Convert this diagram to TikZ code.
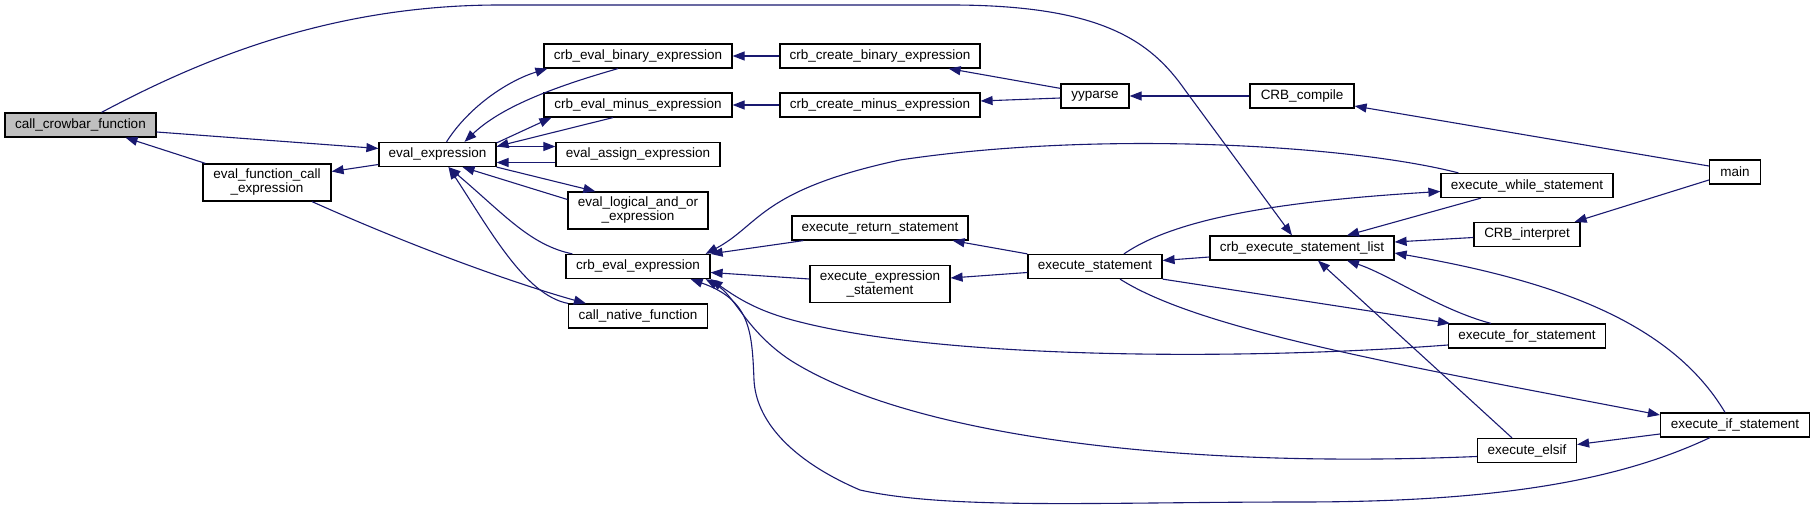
\documentclass[tikz,border=0pt]{standalone}
\usepackage{fontspec}
\setmainfont{Liberation Sans}
\usepackage{tikz}
\usetikzlibrary{arrows.meta}
\definecolor{edgeblue}{RGB}{25,25,112}
\definecolor{hlgray}{RGB}{191,191,191}

\begin{document}
\begin{tikzpicture}[x=1pt,y=-1pt,
    fn/.style={draw=black,line width=1.2pt,fill=white,inner sep=0pt,minimum height=24pt,
      align=center,font=\fontsize{13.5pt}{14pt}\selectfont},
    fntwo/.style={fn,minimum height=37pt},
    call/.style={draw=edgeblue,line width=1.1pt,arrows={Triangle[length=12pt,width=9pt]-}}]
	\useasboundingbox (0,0) rectangle (1815,510);
	% functions, column by column
	\node[fn,fill=hlgray,minimum width=151pt] (ccf) at (80.5,125) {call\_crowbar\_function};
	\node[fntwo,minimum width=128pt] (efc) at (267,182.5) {eval\_function\_call\\\_expression};
	\node[fn,minimum width=117pt] (eexpr) at (437.5,154.5) {eval\_expression};
	\node[fn,minimum width=188pt] (cebin) at (638,56) {crb\_eval\_binary\_expression};
	\node[fn,minimum width=188pt] (cemin) at (638,105) {crb\_eval\_minus\_expression};
	\node[fn,minimum width=164pt] (eassign) at (638,154.5) {eval\_assign\_expression};
	\node[fntwo,minimum width=140pt] (elogic) at (638,210.5) {eval\_logical\_and\_or\\\_expression};
	\node[fn,minimum width=144pt] (ceexpr) at (638,266.5) {crb\_eval\_expression};
	\node[fn,minimum width=139pt] (cnative) at (638,316) {call\_native\_function};
	\node[fn,minimum width=200pt] (ccbin) at (880,56) {crb\_create\_binary\_expression};
	\node[fn,minimum width=200pt] (ccmin) at (880,105) {crb\_create\_minus\_expression};
	\node[fn,minimum width=176pt] (eret) at (880,228) {execute\_return\_statement};
	\node[fntwo,minimum width=140pt] (eexs) at (880,284) {execute\_expression\\\_statement};
	\node[fn,minimum width=68pt] (yyparse) at (1095,96) {yyparse};
	\node[fn,minimum width=134pt] (estmt) at (1095,266.5) {execute\_statement};
	\node[fn,minimum width=104pt] (compile) at (1302,96) {CRB\_compile};
	\node[fn,minimum width=184pt] (cesl) at (1302,248) {crb\_execute\_statement\_list};
	\node[fn,minimum width=51pt] (main) at (1735,172) {main};
	\node[fn,minimum width=172pt] (ewhile) at (1527,185.5) {execute\_while\_statement};
	\node[fn,minimum width=106pt] (interp) at (1527,234.5) {CRB\_interpret};
	\node[fn,minimum width=157pt] (efor) at (1527,336) {execute\_for\_statement};
	\node[fn,minimum width=149pt] (eif) at (1735,425) {execute\_if\_statement};
	\node[fn,minimum width=99pt] (eelsif) at (1527,450.5) {execute\_elsif};
	% calls, tip at the callee
	\draw[call] ([xshift=45pt]ccf.south) -- ([xshift=3pt]efc.north west);
	\draw[call] ([yshift=6pt]eexpr.west) -- ([yshift=-7pt]ccf.east);
	\draw[call] ([yshift=11pt]efc.east) -- ([yshift=-10pt]eexpr.west);
	\draw[call] ([xshift=18pt]cnative.north west) .. controls (520,285) and (420,250) .. ([xshift=45pt]efc.south);
	\draw[call] ([xshift=11pt]eexpr.south) .. controls (490,230) and (525,295) .. (cnative.north west);
	\draw[call] ([xshift=11pt]eexpr.south) .. controls (505,215) and (530,245) .. ([xshift=7pt]ceexpr.north west);
	\draw[call] ([xshift=25pt]eexpr.south) -- ([yshift=11pt]elogic.west);
	\draw[call] ([xshift=28pt]elogic.north west) -- (eexpr.south east);
	\draw[call] ([xshift=4pt]cebin.south west) .. controls (510,80) and (470,105) .. ([xshift=9pt]eexpr.north);
	\draw[call] ([xshift=27pt]eexpr.north) .. controls (500,108) and (550,88) .. ([xshift=-20pt]cebin.south);
	\draw[call] ([xshift=8pt]cemin.south west) -- ([yshift=-1pt]eexpr.north east);
	\draw[call] ([yshift=8pt]eexpr.east) -- ([xshift=-25pt]cemin.south);
	\draw[call] ([yshift=8pt]eassign.west) -- ([yshift=8pt]eexpr.east);
	\draw[call] ([yshift=-8pt]eexpr.east) -- ([yshift=-8pt]eassign.west);
	\draw[call] (cebin.east) -- (ccbin.west);
	\draw[call] (cemin.east) -- (ccmin.west);
	\draw[call] ([xshift=-32pt]ccbin.south east) -- ([yshift=-5pt]yyparse.north west);
	\draw[call] ([yshift=4pt]ccmin.east) -- ([yshift=-2pt]yyparse.west);
	\draw[call] (yyparse.east) -- (compile.west);
	\draw[call] ([yshift=-10pt]compile.east) -- ([yshift=6pt]main.west);
	\draw[call] ([xshift=-6pt]interp.north east) -- ([yshift=-8pt]main.west);
	\draw[call] ([yshift=6pt]cesl.east) -- ([yshift=-3pt]interp.west);
	\draw[call] ([xshift=-10pt]cesl.north) -- (1185,90) .. controls (1150,40) and (1100,5) .. (950,5)
		-- (500,5) .. controls (330,5) and (200,60) .. ([xshift=21pt]ccf.north);
	\draw[call] ([yshift=6pt]estmt.east) -- ([yshift=-9pt]cesl.west);
	\draw[call] ([xshift=45pt]cesl.north) -- ([xshift=-46pt]ewhile.south);
	\draw[call] ([yshift=-6pt]ewhile.west) .. controls (1300,200) and (1180,215) .. ([xshift=29pt]estmt.north);
	\draw[call] ([xshift=-5pt]ceexpr.north east) .. controls (760,225) and (760,190) .. (900,160)
		.. controls (1100,130) and (1350,145) .. ([xshift=18pt]ewhile.north west);
	\draw[call] (ceexpr.north east) -- ([xshift=12pt]eret.south west);
	\draw[call] ([xshift=-16pt]eret.south east) -- (estmt.north west);
	\draw[call] ([yshift=-6pt]ceexpr.east) -- ([yshift=5pt]eexs.west);
	\draw[call] ([yshift=6pt]eexs.east) -- ([yshift=-6pt]estmt.west);
	\draw[call] ([xshift=2pt]efor.north west) -- (estmt.south east);
	\draw[call] ([yshift=10pt]eif.west) .. controls (1400,365) and (1200,330) .. ([xshift=25pt]estmt.south);
	\draw[call] ([xshift=45pt]cesl.south) .. controls (1390,275) and (1440,310) .. ([xshift=-36pt]efor.north);
	\draw[call] ([xshift=16pt]cesl.south) -- ([xshift=-15pt]eelsif.north);
	\draw[call] ([yshift=-5pt]cesl.east) .. controls (1550,280) and (1670,320) .. ([xshift=-10pt]eif.north);
	\draw[call] ([yshift=6pt]eelsif.east) -- ([yshift=-9pt]eif.west);
	\draw[call] (ceexpr.south east) .. controls (740,300) and (760,312) .. (800,322)
		.. controls (950,360) and (1250,360) .. ([yshift=-9pt]efor.west);
	\draw[call] ([xshift=-5pt]ceexpr.south east) .. controls (735,295) and (745,330) .. (790,360)
		.. controls (900,430) and (1150,470) .. ([yshift=-6pt]eelsif.west);
	\draw[call] ([xshift=-20pt]ceexpr.south east) .. controls (750,300) and (752,330) .. (754,380)
		.. controls (756,420) and (790,460) .. (860,490) .. controls (950,510) and (1100,502) .. (1300,502)
		.. controls (1500,502) and (1620,480) .. ([xshift=-25pt]eif.south);
\end{tikzpicture}
\end{document}
